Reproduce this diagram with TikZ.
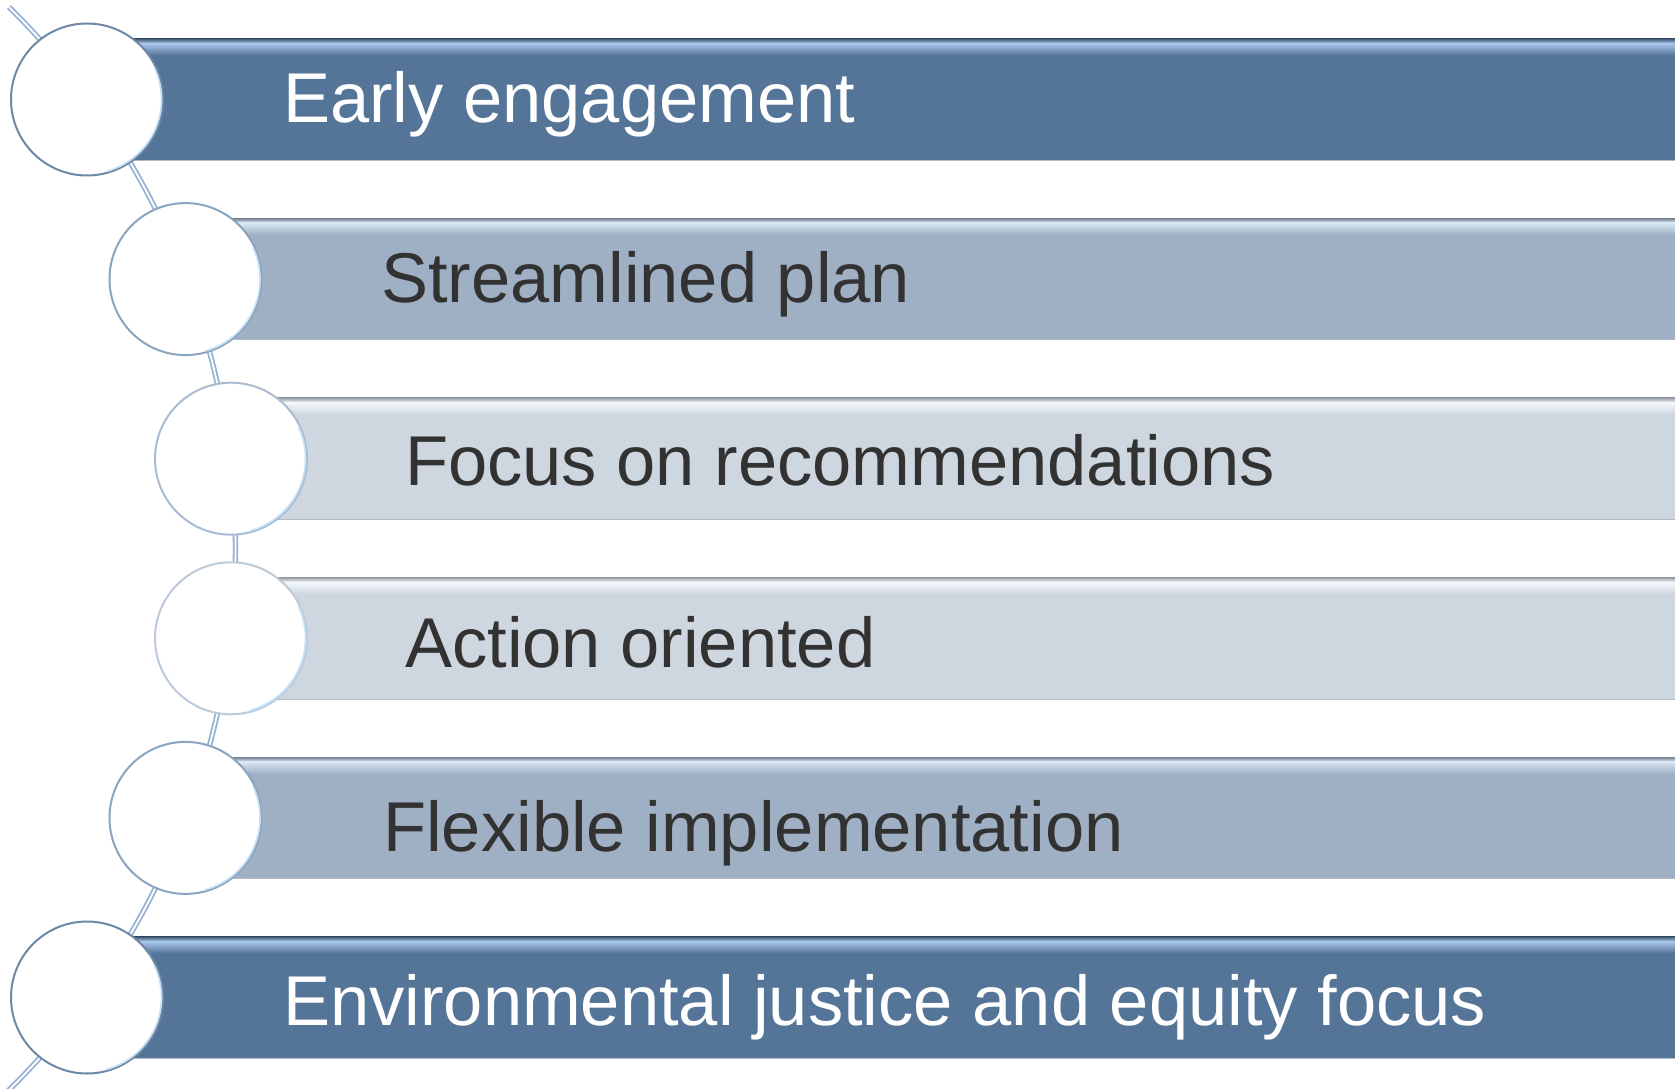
\documentclass[tikz,border=0pt]{standalone}
\usepackage{fontspec}
\setmainfont{Liberation Sans}
\definecolor{bardark}{HTML}{557598}
\definecolor{barmid}{HTML}{A0B0C4}
\definecolor{barlight}{HTML}{CED6E0}
\definecolor{hldark}{HTML}{A9C6EA}
\definecolor{hlmid}{HTML}{D8E6F5}
\definecolor{hllight}{HTML}{F4F8FC}
\definecolor{ringdark}{HTML}{6E88A6}
\definecolor{ringmid}{HTML}{8BA4C0}
\definecolor{ringlight}{HTML}{A9BCD1}
\definecolor{ringpale}{HTML}{BCCADB}
\definecolor{txtdark}{HTML}{323232}
\definecolor{linkcol}{HTML}{95B2D4}
\definecolor{barline}{HTML}{B4BAC2}
\definecolor{rimcol}{HTML}{C6E2F8}
\begin{document}
\begin{tikzpicture}[x=1pt,y=1pt,
  barbox/.style={rectangle, draw=barline, line width=0.8pt, minimum height=121.5pt, inner sep=0pt, anchor=west},
  ring/.style={circle, fill=white, minimum size=152pt, inner sep=0pt, line width=2pt},
  lbl/.style={anchor=base west, inner sep=0pt, font=\fontsize{70.5}{80}\selectfont},
  link/.style={draw=linkcol, double=white, line width=1.8pt, double distance=1.8pt},
]
\useasboundingbox (0,0) rectangle (1675,1088);
\fill[white] (0,0) rectangle (1675,1088);
% connector arc running through all circles
\coordinate (arctop) at ([shift={(45.4:760.5)}]-525,539.5);
\draw[link] (arctop) arc[start angle=45.4, end angle=-47, radius=760.5];
\foreach \i/\cx/\yc/\bc/\hc/\rc/\tx/\off/\tc/\txt in {
  1/87/988.5/bardark/hldark/ringdark/283/23.5/white/Early engagement,
  2/185.5/808.9/barmid/hlmid/ringmid/381/23.7/txtdark/Streamlined plan,
  3/231/629.3/barlight/hllight/ringlight/405/26.5/txtdark/Focus on recommendations,
  4/231/449.7/barlight/hllight/ringpale/405/29/txtdark/Action oriented,
  5/185.5/270.1/barmid/hlmid/ringmid/383/33.5/txtdark/Flexible implementation,
  6/87/90.5/bardark/hldark/ringdark/283/27.5/white/Environmental justice and equity focus}{
  \pgfmathsetmacro{\bw}{1685-\cx}
  \node[barbox, fill=\bc, minimum width=\bw pt] (b\i) at (\cx,\yc) {};
  \shade[top color=\bc!75!black, bottom color=\hc] ([yshift=-0.4pt]b\i.north west) rectangle ([yshift=-5pt]b\i.north east);
  \shade[top color=\hc, bottom color=\bc] ([yshift=-5pt]b\i.north west) rectangle ([yshift=-17pt]b\i.north east);
  \node[ring, draw=\rc] (c\i) at (\cx,\yc) {};
  \draw[rimcol, line width=1.6pt] ([shift={(-75:74.5)}]c\i.center) arc[start angle=-75, end angle=25, radius=74.5];
  \node[lbl, text=\tc] (t\i) at (\tx,\yc-\off) {\txt};
}
\end{tikzpicture}
\end{document}
